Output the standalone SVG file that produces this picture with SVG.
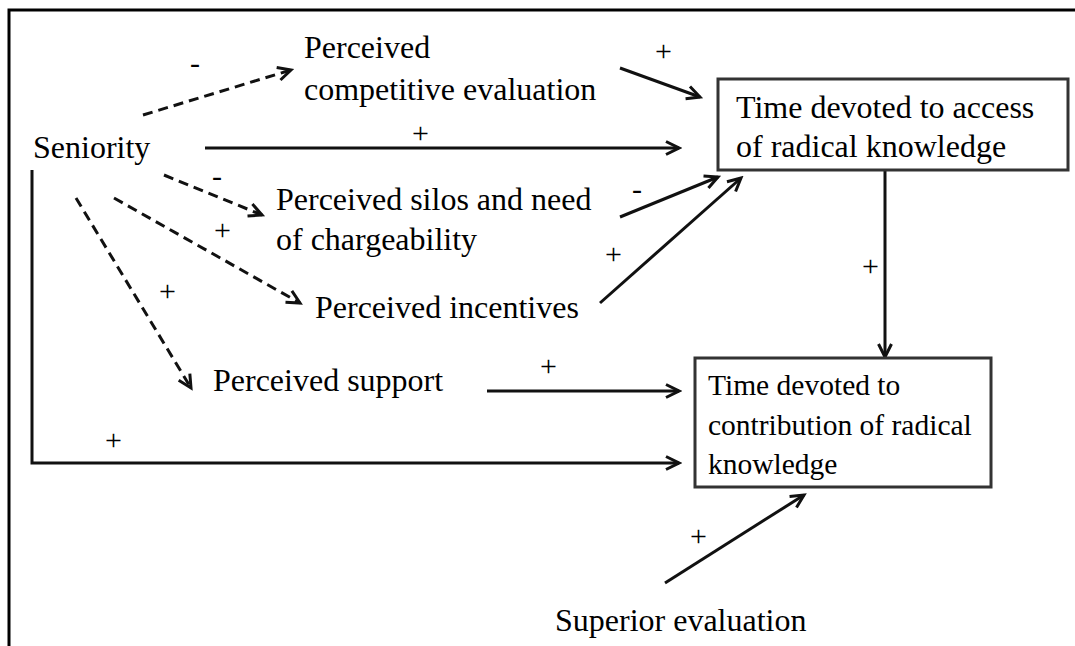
<svg xmlns="http://www.w3.org/2000/svg" width="1075" height="646" viewBox="0 0 1075 646">
<defs>
<style>
.t{font-size:32px}
.b{font-size:29.5px}
.s{font-size:30px}
.c{fill:none;stroke:#111;stroke-width:3}
.d{stroke-dasharray:10 6}
.box{fill:#fff;stroke:#333;stroke-width:3}
</style>
<marker id="ah" markerWidth="18" markerHeight="18" refX="15" refY="9" orient="auto" markerUnits="userSpaceOnUse">
<path d="M2,2.5 L15,9 L2,15.5" fill="none" stroke="#111" stroke-width="3" stroke-linejoin="miter"/>
</marker>
</defs>
<rect width="1075" height="646" fill="#fff"/>
<path d="M9,646 V10 H1075" fill="none" stroke="#000" stroke-width="3"/>

<g id="connectors" font-family="'Liberation Serif', 'Times New Roman', Tinos, 'DejaVu Serif', serif" fill="#000">
<line class="c d" x1="143" y1="115" x2="291" y2="70" marker-end="url(#ah)"/>
<line class="c" x1="620" y1="68" x2="700" y2="97" marker-end="url(#ah)"/>
<line class="c" x1="205" y1="148" x2="679" y2="148" marker-end="url(#ah)"/>
<line class="c d" x1="164" y1="175" x2="262" y2="215" marker-end="url(#ah)"/>
<line class="c d" x1="114" y1="198" x2="300" y2="303" marker-end="url(#ah)"/>
<line class="c d" x1="76" y1="198" x2="191" y2="388" marker-end="url(#ah)"/>
<line class="c" x1="620" y1="217" x2="718" y2="177" marker-end="url(#ah)"/>
<line class="c" x1="600" y1="303" x2="741" y2="178" marker-end="url(#ah)"/>
<line class="c" x1="487" y1="391" x2="679" y2="391" marker-end="url(#ah)"/>
<polyline class="c" points="32,170 32,463 679,463" marker-end="url(#ah)"/>
<line class="c" x1="885" y1="170" x2="885" y2="357" marker-end="url(#ah)"/>
<line class="c" x1="665" y1="583" x2="804" y2="495" marker-end="url(#ah)"/>
<text class="s" x="190" y="73">-</text>
<text class="s" x="655" y="61">+</text>
<text class="s" x="412" y="143">+</text>
<text class="s" x="212" y="186">-</text>
<text class="s" x="214" y="240">+</text>
<text class="s" x="159" y="301">+</text>
<text class="s" x="632" y="199">-</text>
<text class="s" x="605" y="264">+</text>
<text class="s" x="540" y="376">+</text>
<text class="s" x="105" y="450">+</text>
<text class="s" x="862" y="276">+</text>
<text class="s" x="690" y="546">+</text>
</g>

<g font-family="'Liberation Serif', 'Times New Roman', Tinos, 'DejaVu Serif', serif" fill="#000">
<g id="seniority"><text class="t" x="33" y="158">Seniority</text></g>
<g id="competitive"><text class="t" x="304" y="58">Perceived</text><text class="t" x="304" y="100">competitive evaluation</text></g>
<g id="silos"><text class="t" x="276" y="210">Perceived silos and need</text><text class="t" x="276" y="250">of chargeability</text></g>
<g id="incentives"><text class="t" x="315" y="318">Perceived incentives</text></g>
<g id="support"><text class="t" x="213" y="391">Perceived support</text></g>
<g id="access"><rect class="box" x="718" y="79" width="350" height="91"/><text class="t" x="736" y="118">Time devoted to access</text><text class="t" x="736" y="157">of radical knowledge</text></g>
<g id="contribution"><rect class="box" x="695" y="358" width="296" height="129"/><text class="b" x="708" y="395">Time devoted to</text><text class="b" x="708" y="435">contribution of radical</text><text class="b" x="708" y="474">knowledge</text></g>
<g id="superior"><text class="t" x="555" y="631">Superior evaluation</text></g>
</g>
</svg>
